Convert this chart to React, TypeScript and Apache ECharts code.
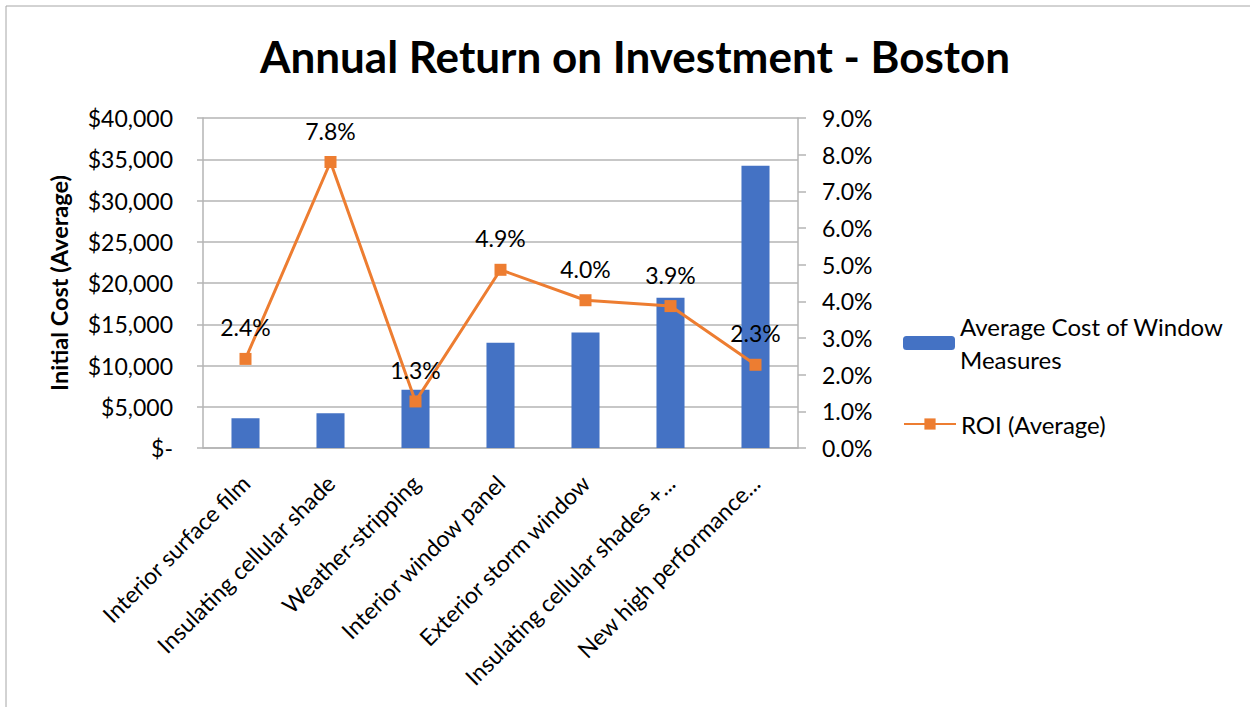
import React, { useEffect, useRef } from "react";
import * as echarts from "echarts";

const categories = [
  "Interior surface film",
  "Insulating cellular shade",
  "Weather-stripping",
  "Interior window panel",
  "Exterior storm window",
  "Insulating cellular shades +...",
  "New high performance...",
];
const avgCost = [3600, 4200, 7050, 12750, 14000, 18200, 34200];
const roi = [2.43, 7.8, 1.27, 4.86, 4.03, 3.87, 2.27];
const costTicks = { min: 0, max: 40000, interval: 5000 };
const roiTicks = { min: 0, max: 9, interval: 1 };

const FONT = "Lato";

export default function App() {
  const ref = useRef<HTMLDivElement>(null);
  useEffect(() => {
    if (!ref.current) return;
    const chart = echarts.init(ref.current, null, { renderer: "svg" });
    const grey = "#b4b4b4";
    chart.setOption({
      animation: false,
      backgroundColor: "#fff",
      textStyle: { fontFamily: FONT, color: "#000" },
      graphic: [
        {
          type: "rect",
          shape: { x: 6, y: 6, width: 1260, height: 720 },
          style: { fill: "none", stroke: "#a6a6a6", lineWidth: 1 },
          silent: true,
        },
      ],
      title: {
        text: "Annual Return on Investment - Boston",
        left: 630,
        textAlign: "center",
        top: 29,
        textStyle: { fontFamily: FONT, fontSize: 44, fontWeight: "bold", color: "#000" },
      },
      legend: [
        {
          data: ["Average Cost of Window Measures"],
          orient: "vertical",
          left: 903,
          top: 293.5,
          padding: 0,
          itemWidth: 52,
          itemHeight: 14,
          itemGap: 0,
          formatter: () => "Average Cost of Window\nMeasures",
          textStyle: { fontFamily: FONT, fontSize: 24, color: "#000", lineHeight: 33, padding: [33, 0, 0, 0] },
        },
        {
          data: ["ROI (Average)"],
          orient: "vertical",
          left: 903,
          top: 407.5,
          padding: 0,
          itemWidth: 52,
          itemHeight: 14,
          textStyle: { fontFamily: FONT, fontSize: 24, color: "#000", lineHeight: 33 },
        },
      ],
      grid: { left: 203, right: 452, top: 118, bottom: 259 },
      xAxis: {
        type: "category",
        data: categories,
        axisLine: { show: true, lineStyle: { color: grey, width: 1.5 } },
        axisTick: { show: false },
        axisLabel: { rotate: 45, interval: 0, fontSize: 23, margin: 31, color: "#000", fontFamily: FONT },
      },
      yAxis: [
        {
          type: "value",
          ...costTicks,
          name: "Initial Cost (Average)",
          nameLocation: "middle",
          nameGap: 132,
          nameTextStyle: { fontSize: 23.5, fontWeight: "bold", color: "#000", fontFamily: FONT },
          axisLine: { show: true, lineStyle: { color: grey, width: 1.5 } },
          axisTick: { show: true, length: 6, lineStyle: { color: grey, width: 1.5 } },
          splitLine: { show: true, lineStyle: { color: grey, width: 1.5 } },
          axisLabel: {
            fontSize: 23,
            margin: 30,
            color: "#000",
            fontFamily: FONT,
            formatter: (v: number) => (v === 0 ? "$-" : "$" + v.toLocaleString("en-US")),
          },
        },
        {
          type: "value",
          ...roiTicks,
          position: "right",
          axisLine: { show: true, lineStyle: { color: grey, width: 1.5 } },
          axisTick: { show: true, length: 8, lineStyle: { color: grey, width: 1.5 } },
          splitLine: { show: false },
          axisLabel: {
            fontSize: 23,
            margin: 24,
            color: "#000",
            fontFamily: FONT,
            formatter: (v: number) => v.toFixed(1) + "%",
          },
        },
      ],
      series: [
        {
          name: "Average Cost of Window Measures",
          type: "bar",
          data: avgCost,
          barWidth: "33%",
          itemStyle: { color: "#4472c4" },
          yAxisIndex: 0,
        },
        {
          name: "ROI (Average)",
          type: "line",
          data: roi,
          yAxisIndex: 1,
          symbol: "rect",
          symbolSize: 12,
          lineStyle: { color: "#ed7d31", width: 3 },
          itemStyle: { color: "#ed7d31" },
          label: {
            show: true,
            position: "top",
            distance: 14,
            fontSize: 23,
            color: "#000",
            fontFamily: FONT,
            formatter: (p: any) => Number(p.value).toFixed(1) + "%",
          },
        },
      ],
    });
    return () => chart.dispose();
  }, []);
  return (
    <div
      ref={ref}
      style={{ position: "fixed", left: 0, top: 0, width: 1250, height: 707 }}
    />
  );
}
